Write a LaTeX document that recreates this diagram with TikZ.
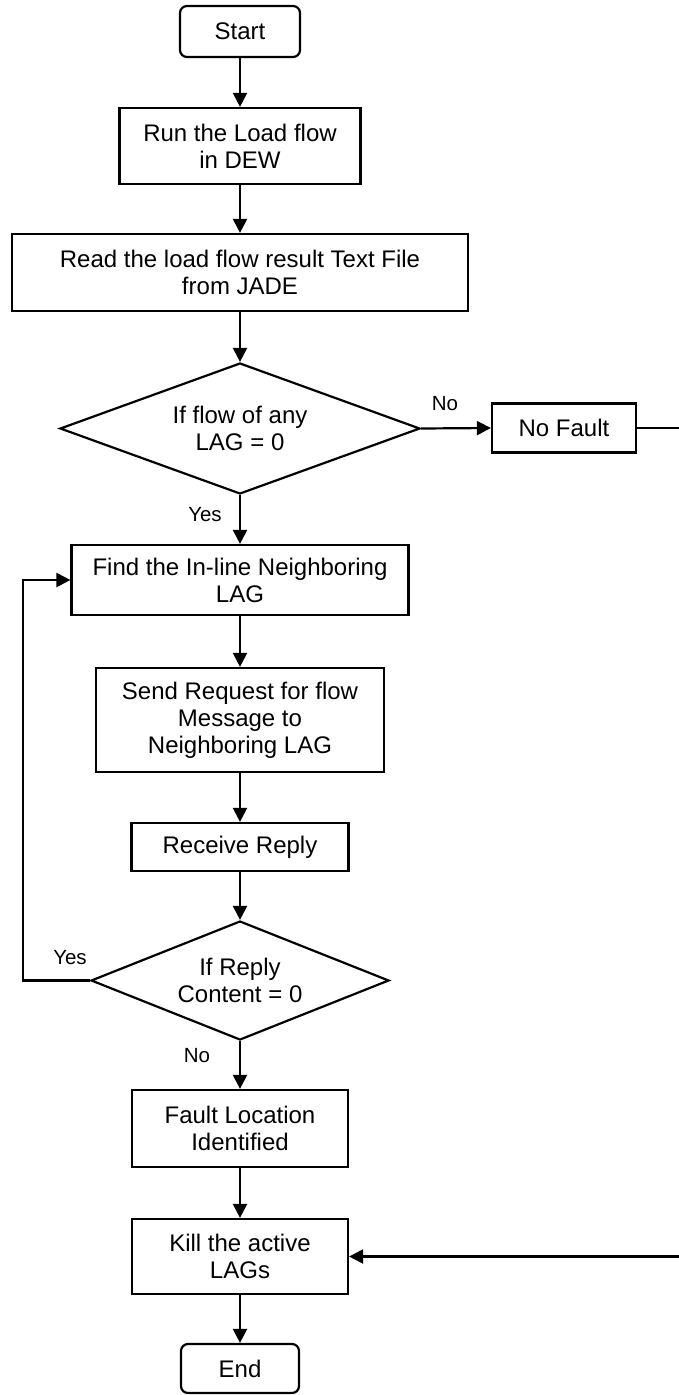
\documentclass[tikz,border=0pt]{standalone}
\usepackage{fontspec}
\setmainfont{Liberation Sans}
\usetikzlibrary{shapes.geometric,arrows.meta}
\begin{document}
\begin{tikzpicture}[x=1pt,y=-1pt,
  txt/.style={font=\fontsize{24}{27}\selectfont},
  lab/.style={font=\fontsize{20.5}{24}\selectfont, inner sep=0pt},
  procbox/.style={txt, draw, line width=2.2pt, rectangle, inner sep=0pt, align=center},
  termbox/.style={procbox, rounded corners=7pt},
  decbox/.style={txt, draw, line width=2.2pt, diamond, inner sep=0pt, align=center},
  flow/.style={line width=2.2pt, -{Triangle[length=14pt,width=14pt]}}]
\useasboundingbox (0,0) rectangle (679,1395);

% process steps
\node[termbox, minimum width=120pt, minimum height=51pt] (start) at (240,31.5) {Start};
\node[procbox, minimum width=241pt, minimum height=76pt] (run) at (240,146) {Run the Load flow\\in DEW};
\node[procbox, minimum width=456pt, minimum height=77pt] (read) at (240,272.5) {Read the load flow result Text File\\from JADE};
\node[decbox, aspect=2.75, minimum width=360pt, minimum height=131pt] (dec1) at (240,428.5) {If flow of any\\LAG = 0};
\node[procbox, minimum width=144pt, minimum height=49pt] (nofault) at (564,428) {No Fault};
\node[procbox, minimum width=337pt, minimum height=70pt] (find) at (240,580) {Find the In-line Neighboring\\LAG};
\node[procbox, minimum width=288pt, minimum height=104pt] (send) at (240,720) {Send Request for flow\\Message to\\Neighboring LAG};
\node[procbox, minimum width=217pt, minimum height=48pt] (recv) at (240,847) {Receive Reply};
\node[decbox, aspect=2.5, minimum width=298pt, minimum height=119pt] (dec2) at (240,980.5) {If Reply\\Content = 0};
\node[procbox, minimum width=216pt, minimum height=77pt] (fault) at (240,1128.5) {Fault Location\\Identified};
\node[procbox, minimum width=216pt, minimum height=75pt] (kill) at (240,1256.5) {Kill the active\\LAGs};
\node[termbox, minimum width=118pt, minimum height=49pt] (end) at (240,1368.5) {End};

% branch labels
\node[lab] (no1) at (445,404) {No};
\node[lab] (yes1) at (205,515) {Yes};
\node[lab] (yes2) at (70,958) {Yes};
\node[lab] (no2) at (197,1056) {No};

% main flow
\draw[flow] (start) -- (run);
\draw[flow] (run) -- (read);
\draw[flow] (read) -- (dec1);
\draw[flow] (dec1.east) -- (nofault.west);
\draw[flow] (dec1) -- (find);
\draw[flow] (find) -- (send);
\draw[flow] (send) -- (recv);
\draw[flow] (recv) -- (dec2);
\draw[flow] (dec2) -- (fault);
\draw[flow] (fault) -- (kill);
\draw[flow] (kill) -- (end);

% loop back while the reply content is zero
\coordinate (lx) at (23,980.5);
\draw[flow] (dec2.west) -- (lx) |- (find.west);

% no-fault path joins the end of the procedure
\coordinate (rx) at (681,428);
\draw[flow] (nofault.east) -- (rx) |- (kill.east);
\end{tikzpicture}
\end{document}
